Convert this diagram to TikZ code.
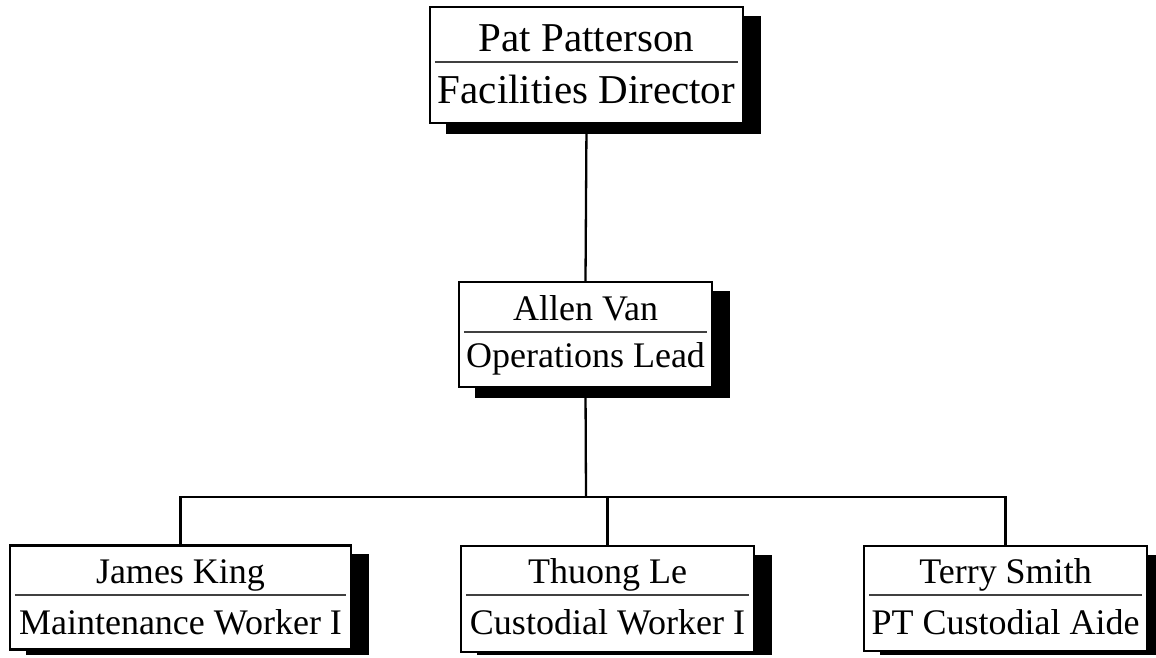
\documentclass[tikz,border=0pt]{standalone}
\usepackage{fontspec}
\setmainfont{Liberation Serif}
\usetikzlibrary{calc,backgrounds}
\begin{document}
\begin{tikzpicture}[x=1pt,y=-1pt,
  card/.style={draw=black, fill=white, line width=2.3pt, inner sep=0pt,
    minimum width=#1},
  cardtext/.style={anchor=base, inner sep=0pt, text=black},
  headfont/.style={font=\fontsize{41}{48}\selectfont},
  bodyfont/.style={font=\fontsize{36}{42}\selectfont},
  rule/.style={draw=black!75, line width=1.1pt},
  link/.style={draw=black, line width=2.3pt},
  shadowfill/.style={fill=black}]
\useasboundingbox (0,0) rectangle (1156,658);

% boxes
\node[card=313pt, minimum height=116pt] (pat)    at (586.5,65)   {};
\node[card=253pt, minimum height=105pt] (allen)  at (585.5,334.5) {};
\node[card=341pt, minimum height=104pt] (james)  at (180.5,597.5) {};
\node[card=293pt, minimum height=106pt] (thuong) at (607.5,599)  {};
\node[card=283pt, minimum height=105pt] (terry)  at (1005.5,598.5) {};

% drop shadows
\begin{scope}[on background layer]
  \clip (0,0) rectangle (1156,654);
  \foreach \b in {pat,allen,james,thuong,terry}
    \fill[shadowfill] ($(\b.north west)+(17,10)$) rectangle ($(\b.south east)+(17,10)$);
\end{scope}

% dividers
\foreach \b/\y in {pat/62,allen/332,james/595,thuong/595,terry/595}
  \draw[rule] ($(\b.west |- 0,\y)+(6,0)$) -- ($(\b.east |- 0,\y)+(-6,0)$);

% names and titles
\node[cardtext, headfont] (patname)    at (586.5,52)  {Pat Patterson};
\node[cardtext, headfont] (pattitle)   at (586.5,104) {Facilities Director};
\node[cardtext, bodyfont] (allenname)  at (585.5,320) {Allen Van};
\node[cardtext, bodyfont] (allentitle) at (585.5,367) {Operations Lead};
\node[cardtext, bodyfont] (jamesname)  at (180.5,583) {James King};
\node[cardtext, bodyfont] (jamestitle) at (180.5,634) {Maintenance Worker I};
\node[cardtext, bodyfont] (thuongname) at (607.5,583) {Thuong Le};
\node[cardtext, bodyfont] (thuongtitle) at (607.5,634) {Custodial Worker I};
\node[cardtext, bodyfont] (terryname)  at (1005.5,583) {Terry Smith};
\node[cardtext, bodyfont] (terrytitle) at (1005.5,634) {PT Custodial Aide};

% reporting lines
\coordinate (bar) at (586,497);
\draw[link] (pat.south) -- (allen.north);
\draw[link] (allen.south) -- (bar);
\draw[link] (james.north) |- (bar) -| (terry.north);
\draw[link] (thuong.north) -- (thuong.north |- bar);
\end{tikzpicture}
\end{document}
